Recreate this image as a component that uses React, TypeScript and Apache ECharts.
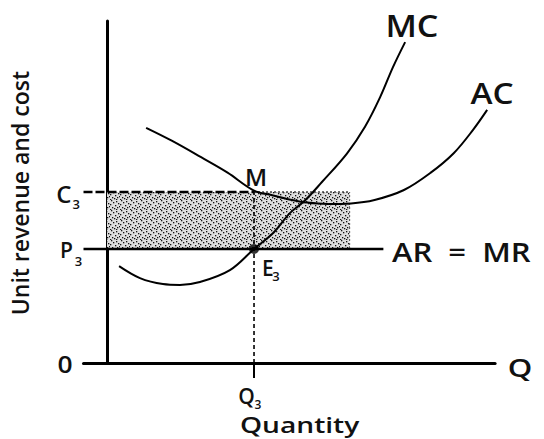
import React, { useEffect, useRef } from "react";
import * as echarts from "echarts";

// Marginal cost curve (quantity, unit cost)
const mcQuantity = [0.41, 1.12, 1.9, 2.48, 3.16, 4.18, 5, 5.65, 6.22, 6.73, 7.31, 8.16, 8.78, 9.29, 9.73, 10.14];
const mcCost = [3.4, 2.98, 2.77, 2.74, 2.84, 3.26, 4.0, 4.56, 5.26, 5.7, 6.35, 7.35, 8.3, 9.33, 10.39, 11.26];

// Average cost curve (quantity, unit cost)
const acQuantity = [1.33, 2.2, 3.2, 4.1, 5, 5.65, 6.2, 6.8, 7.5, 8.3, 9.1, 10.1, 11, 11.8, 12.45, 12.93];
const acCost = [8.25, 7.8, 7.22, 6.68, 6.05, 5.88, 5.74, 5.63, 5.58, 5.6, 5.72, 6.07, 6.67, 7.37, 8.18, 8.88];

// Key levels
const priceP3 = 4; // AR = MR
const costC3 = 6; // average cost at Q3
const quantityQ3 = 5;
const arMrEnd = 9.4;
const shadeEnd = 8.25;

// Axis ranges
const xMin = -0.8;
const xMax = 13.2;
const yMax = 12;

// Stipple texture dots for the shaded (loss) area: [col, row] in a 10x10 tile
const stippleDots = [[1, 0], [6, 1], [3, 2], [8, 3], [0, 4], [5, 5], [9, 6], [2, 7], [7, 7], [4, 8], [0, 9], [6, 9]];

type Label = {
  text: string;
  x: number;
  y: number;
  size: number;
  align: "left" | "center" | "right";
  scaleX?: number;
  rotate?: boolean;
};

const labels: Label[] = [
  { text: "MC", x: 10.37, y: 11.86, size: 31, align: "center", scaleX: 1.1 },
  { text: "AC", x: 13.1, y: 9.47, size: 29, align: "center", scaleX: 1.15 },
  { text: "AR  =  MR", x: 9.69, y: 3.89, size: 27, align: "left", scaleX: 1.15 },
  { text: "Q", x: 14.05, y: -0.12, size: 26, align: "center", scaleX: 1.2 },
  { text: "M", x: 5.07, y: 6.53, size: 24, align: "center" },
  { text: "E", x: 5.27, y: 3.33, size: 21, align: "left" },
  { text: "3", x: 5.62, y: 3.05, size: 13, align: "left" },
  { text: "C", x: -1.21, y: 5.96, size: 24, align: "right" },
  { text: "3", x: -1.17, y: 5.58, size: 13, align: "left" },
  { text: "P", x: -1.16, y: 3.96, size: 21, align: "right" },
  { text: "3", x: -1.1, y: 3.58, size: 13, align: "left" },
  { text: "0", x: -1.43, y: 0, size: 24, align: "center", scaleX: 1.1 },
  { text: "Q", x: 4.46, y: -1.16, size: 21, align: "left" },
  { text: "3", x: 5.02, y: -1.47, size: 12, align: "left" },
  { text: "Quantity", x: 4.52, y: -2.16, size: 22, align: "left", scaleX: 1.28 },
  { text: "Unit revenue and cost", x: -2.96, y: 5.96, size: 23, align: "center", rotate: true },
];

function makeStipple(): any {
  try {
    const c = document.createElement("canvas");
    c.width = 10;
    c.height = 10;
    const ctx = c.getContext("2d");
    if (!ctx) return "#c6c6c6";
    ctx.fillStyle = "#dedede";
    ctx.fillRect(0, 0, 10, 10);
    ctx.fillStyle = "#111";
    stippleDots.forEach(([dx, dy]) => ctx.fillRect(dx, dy, 1.3, 1.3));
    return { image: c, repetition: "repeat" };
  } catch (e) {
    return "#c6c6c6";
  }
}

export default function App() {
  const ref = useRef<HTMLDivElement>(null);

  useEffect(() => {
    if (!ref.current) return;
    const chart = echarts.init(ref.current, null, { renderer: "svg" });

    const lineBase = { type: "line", symbol: "none", silent: true, z: 3 } as const;

    const option: any = {
      animation: false,
      backgroundColor: "#ffffff",
      grid: { left: 83.5, right: 48.9, top: 21, bottom: 76 },
      xAxis: {
        type: "value",
        min: xMin,
        max: xMax,
        axisLine: { show: true, onZero: false, lineStyle: { color: "#000", width: 3 } },
        axisTick: { show: true, customValues: [quantityQ3], length: 15, lineStyle: { color: "#000", width: 2 } },
        axisLabel: { show: false },
        splitLine: { show: false },
      },
      yAxis: {
        type: "value",
        min: 0,
        max: yMax,
        axisLine: { show: true, onZero: true, lineStyle: { color: "#000", width: 3 } },
        axisTick: { show: false },
        axisLabel: { show: false },
        splitLine: { show: false },
      },
      series: [
        {
          ...lineBase,
          name: "shade",
          data: [],
          z: 1,
          markArea: {
            silent: true,
            itemStyle: { color: makeStipple() },
            data: [[{ coord: [0, priceP3] }, { coord: [shadeEnd, costC3] }]],
          },
        },
        {
          ...lineBase,
          name: "shade top",
          data: [[quantityQ3, costC3], [shadeEnd, costC3]],
          lineStyle: { color: "#444", width: 1.5, type: [2, 2] },
        },
        {
          ...lineBase,
          name: "shade right",
          data: [[shadeEnd, priceP3], [shadeEnd, costC3]],
          lineStyle: { color: "#666", width: 1.2, type: [2, 2] },
        },
        {
          ...lineBase,
          name: "C3",
          data: [[xMin, costC3], [quantityQ3, costC3]],
          lineStyle: { color: "#000", width: 2.5, type: [9, 3] },
        },
        {
          ...lineBase,
          name: "Q3",
          data: [[quantityQ3, 0], [quantityQ3, costC3]],
          lineStyle: { color: "#000", width: 1.6, type: [4, 3] },
        },
        {
          ...lineBase,
          name: "AR = MR",
          data: [[xMin, priceP3], [arMrEnd, priceP3]],
          lineStyle: { color: "#000", width: 2.5 },
        },
        {
          ...lineBase,
          name: "AC",
          smooth: 0.35,
          data: acQuantity.map((q, i) => [q, acCost[i]]),
          lineStyle: { color: "#000", width: 2 },
        },
        {
          ...lineBase,
          name: "MC",
          smooth: 0.35,
          data: mcQuantity.map((q, i) => [q, mcCost[i]]),
          lineStyle: { color: "#000", width: 2 },
        },
        {
          type: "scatter",
          name: "E3",
          silent: true,
          z: 5,
          symbolSize: 10,
          itemStyle: { color: "#000" },
          data: [[quantityQ3, priceP3]],
        },
      ],
    };

    chart.setOption(option);

    const elements = labels.map((l) => {
      const p = chart.convertToPixel({ gridIndex: 0 }, [l.x, l.y]) as number[];
      return {
        type: "text",
        x: p[0],
        y: p[1],
        scaleX: l.scaleX ?? 1,
        rotation: l.rotate ? Math.PI / 2 : 0,
        silent: true,
        z: 10,
        style: {
          text: l.text,
          fontSize: l.size,
          fontWeight: 600,
          fontFamily: "Open Sans",
          fill: "#111",
          align: l.align,
          verticalAlign: "middle",
          textAlign: l.align,
          textVerticalAlign: "middle",
        },
      };
    });
    chart.setOption({ graphic: { elements } });

    return () => chart.dispose();
  }, []);

  return (
    <div
      ref={ref}
      style={{ position: "fixed", left: 0, top: 0, width: 544, height: 439, background: "#fff" }}
    />
  );
}
